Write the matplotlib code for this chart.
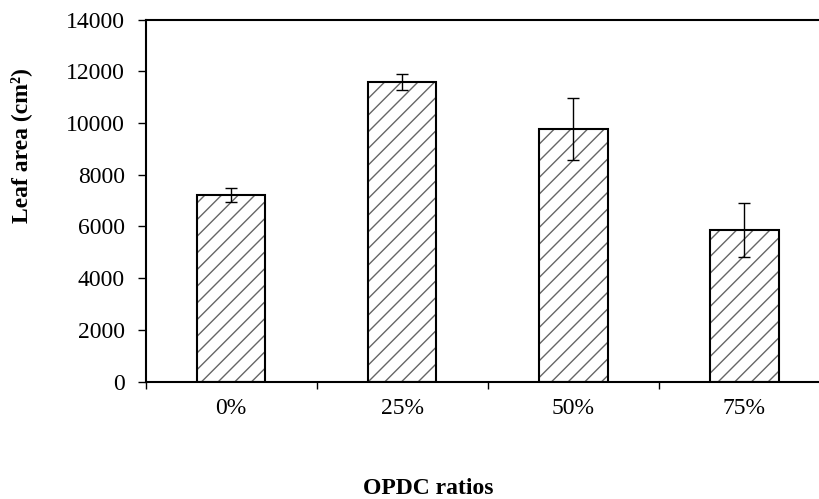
import matplotlib
matplotlib.use("Agg")
import matplotlib.pyplot as plt
import numpy as np

# data
ratios = ["0%", "25%", "50%", "75%"]
leaf_area = [7200, 11580, 9770, 5860]
leaf_err = [270, 315, 1200, 1055]

plt.rcParams["font.family"] = ["Liberation Serif", "DejaVu Serif"]
plt.rcParams["hatch.linewidth"] = 1.0

fig = plt.figure(figsize=(8.19, 4.99), dpi=100)
ax = fig.add_axes([0.1777, 0.235, 1.0134 - 0.1777, 0.9609 - 0.235])

x = np.arange(len(ratios)) + 0.5
# hatch layer then outline on top
ax.bar(x, leaf_area, width=0.4, color="white", edgecolor="0.4",
       hatch="//", linewidth=0, zorder=2)
ax.bar(x, leaf_area, width=0.4, fill=False, edgecolor="black",
       linewidth=1.5, zorder=3)
ax.errorbar(x, leaf_area, yerr=leaf_err, fmt="none", ecolor="black",
            elinewidth=1.0, capsize=4.3, capthick=1.0, zorder=4)

ax.set_xlim(0, 4)
ax.set_ylim(0, 14000)
ax.set_yticks(np.arange(0, 14001, 2000))
ax.set_xticks([0, 1, 2, 3, 4])
ax.set_xticklabels([])
ax.set_xticks(x, minor=True)
ax.set_xticklabels(ratios, minor=True)
ax.tick_params(axis="x", which="minor", length=0, pad=12, labelsize=17)
ax.tick_params(axis="x", which="major", length=5, width=1.0, direction="out")
ax.tick_params(axis="y", length=6, width=1.0, direction="out", pad=9,
               labelsize=17)

for s in ax.spines.values():
    s.set_linewidth(1.5)

fig.text(0.0255, 0.709, "Leaf area (cm²)", rotation=90, ha="center",
         va="center", fontsize=17, fontweight="bold")
fig.text(428 / 819, 1 - 489 / 499, "OPDC ratios", ha="center", va="center",
         fontsize=17, fontweight="bold")

fig.savefig("out.png", dpi=100)
